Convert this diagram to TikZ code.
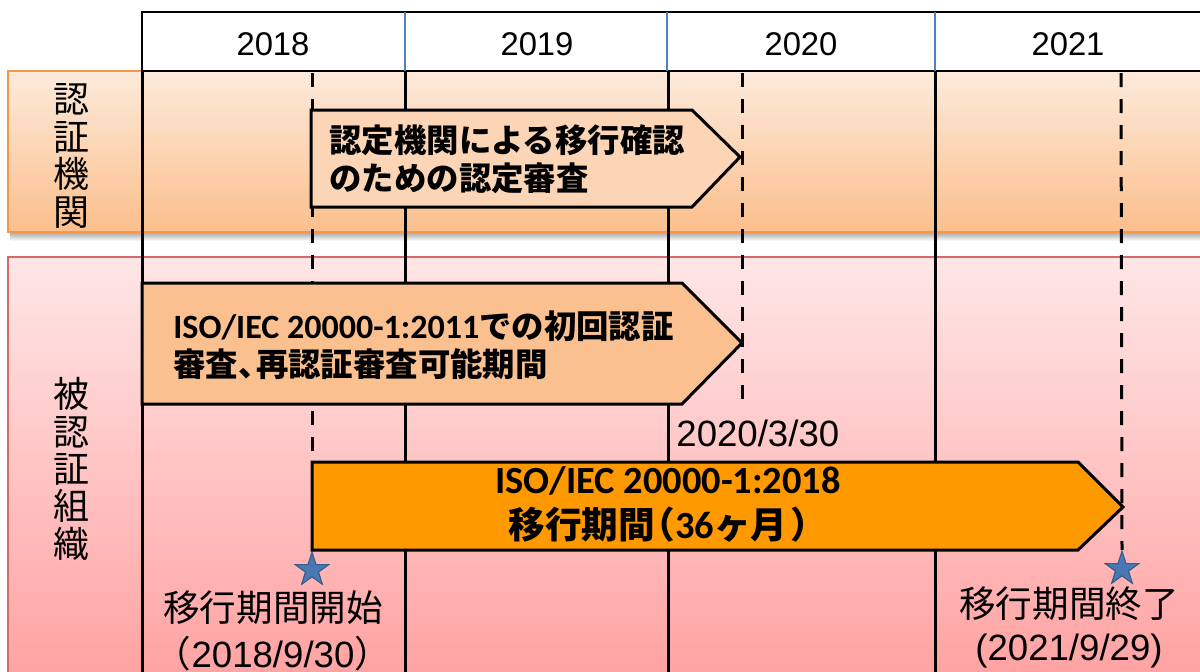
\documentclass[tikz,border=0pt]{standalone}
\usepackage{fontspec}
\setmainfont{Liberation Sans}
\newfontfamily\jpfont{Noto Sans CJK JP}
\newfontfamily\latfont[Scale=1.05]{Carlito}
\usepackage{xcolor}
\usepackage{tikz}
\usetikzlibrary{shapes.geometric,positioning,calc}

\definecolor{orgTop}{HTML}{FDEADB}
\definecolor{orgBot}{HTML}{FBBF8C}
\definecolor{orgEdge}{HTML}{F79646}
\definecolor{pinkTop}{HTML}{FFE6E6}
\definecolor{pinkBot}{HTML}{FFA0A0}
\definecolor{pinkEdge}{HTML}{D46A6A}
\definecolor{hdrBlue}{HTML}{4F81BD}
\definecolor{auditFill}{HTML}{FBD5B5}
\definecolor{oldFill}{HTML}{FAC090}
\definecolor{transFill}{HTML}{FF9900}
\definecolor{starBlue}{HTML}{4A78B4}
\definecolor{starEdge}{HTML}{385D8A}

\begin{document}
\begin{tikzpicture}[
    x=0.5pt, y=-0.5pt,
    yearlbl/.style={font=\fontsize{16.4}{18}\selectfont},
    sidelbl/.style={font=\jpfont\fontsize{18}{18.7}\selectfont, align=center, inner sep=0pt},
    arrowtxt/.style={font=\jpfont\bfseries\fontsize{16.2}{19}\selectfont, align=left, inner sep=0pt},
    datelbl/.style={font=\fontsize{18.3}{23}\selectfont, align=center, inner sep=0pt},
    period/.style={draw=black, line width=1.5pt, line join=miter},
    gridline/.style={line width=1.5pt},
    marker/.style={line width=1.5pt, dash pattern=on 7pt off 6pt},
    milestone/.style={star, star points=5, star point ratio=2.6, minimum size=17.5pt, inner sep=0pt, fill=starBlue, draw=starEdge, line width=0.5pt}
]
    \clip (0,0) rectangle (1200,671);
    \fill[white] (0,0) rectangle (1200,671);

    % bands
    \shade[top color=black!35, bottom color=white] (10,232) rectangle (1210,241);
    \shade[top color=orgTop, bottom color=orgBot] (8,71) rectangle (1210,232);
    \draw[orgEdge, line width=1pt] (8,71) rectangle (1210,232);
    \shade[top color=pinkTop, bottom color=pinkBot] (8,257) rectangle (1210,690);
    \draw[pinkEdge, line width=0.8pt] (8,257) rectangle (1210,690);

    \node[sidelbl] (cb) at (72,156) {認\\証\\機\\関};
    \node[sidelbl] (org) at (72,469) {被\\認\\証\\組\\織};

    % header
    \draw[line width=1pt] (142,71) |- (1210,12);
    \draw[line width=1pt] (142,71) -- (1210,71);
    \foreach \x in {405,667,935}
        \draw[hdrBlue, line width=0.6pt] (\x,12) -- (\x,71);
    \foreach \x/\yr in {273/2018, 537/2019, 801/2020, 1068/2021}
        \node[yearlbl] (y\yr) at (\x,44) {\yr};

    % year columns
    \foreach \x in {142,405,668,935}
        \draw[gridline] (\x,71) -- (\x,690);

    % milestones
    \coordinate (startTop) at (312,73);
    \coordinate (cutTop) at (742,73);
    \coordinate (cutEnd) at (742,405);
    \coordinate (endTop) at (1121,73);
    \node[milestone] (startStar) at (312,570) {};
    \node[milestone] (endStar) at (1122,569) {};
    \draw[marker] (startTop) -- (startStar.north);
    \draw[marker] (cutTop) -- (cutEnd);
    \draw[marker] (endTop) -- (endStar.north);
    \node[milestone] at (startStar) {};
    \node[milestone] at (endStar) {};

    % periods
    \draw[period, fill=auditFill] (311,110) -- (692,110) -- (740,157) -- (692,207) -- (311,207) -- cycle;
    \draw[period, fill=oldFill] (142,283) -- (682,283) -- (742,343) -- (682,404) -- (142,404) -- cycle;
    \draw[period, fill=transFill] (312,462) -- (1078,462) -- (1123,507) -- (1078,550) -- (312,550) -- cycle;

    \node[arrowtxt, anchor=west] (audit) at (329,159) {認定機関による移行確認\\のための認定審査};
    \node[arrowtxt, anchor=west] (oldstd) at (173,345) {{\latfont\bfseries ISO/IEC 20000-1:2011}での初回認証\\審査、\kern-0.45em 再認証審査可能期間};
    \node[arrowtxt, align=center, font=\jpfont\bfseries\fontsize{18.3}{22.5}\selectfont] (trans) at (668,504)
        {{\latfont\bfseries ISO/IEC 20000-1:2018}\\移行期間\kern-0.45em（{\latfont\bfseries 36}ヶ月\kern0.1em）};

    \node[datelbl, anchor=west] (cut) at (676,433) {2020/3/30};
    \node[datelbl] (startLbl) at (273,631) {{\jpfont 移行期間開始}\\{\jpfont （}2018/9/30{\jpfont ）}};
    \node[datelbl, font=\fontsize{18.3}{21.5}\selectfont] (endLbl) at (1069,627) {{\jpfont 移行期間終了}\\(2021/9/29)};
\end{tikzpicture}
\end{document}
